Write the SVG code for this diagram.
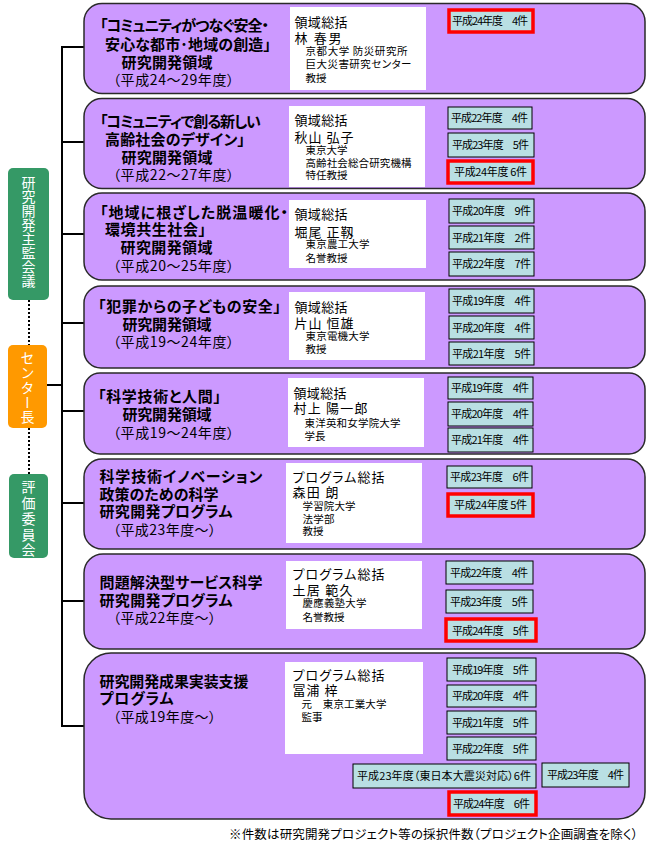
<svg xmlns="http://www.w3.org/2000/svg" width="654" height="846" viewBox="0 0 654 846">
<style>
.panel{fill:#cc99ff;stroke:#2a2a2a;stroke-width:1.5}
.info{fill:#ffffff}
.cnt{fill:#b9dfe3;stroke:#000;stroke-width:1}
.cntr{fill:#b9dfe3;stroke:#ff0000;stroke-width:3.5}
text{font-family:"Noto Sans CJK JP","Noto Sans CJK SC",sans-serif;font-feature-settings:"palt";fill:#000}
.ttl{font-size:15px;font-weight:bold}
.sub{font-size:14px}
.nm{font-size:13px}
.sm{font-size:10.5px}
.cn{font-size:11px}
.vt{font-size:14px;fill:#fff;writing-mode:vertical-rl;font-feature-settings:normal}
.ln{stroke:#000;stroke-width:2;fill:none}
.dot{stroke:#000;stroke-width:2;stroke-dasharray:2 2;fill:none}
</style>
<g id="connectors">
<line class="ln" x1="62" y1="46" x2="62" y2="727"/>
<line class="ln" x1="47" y1="385" x2="62" y2="385"/>
<line class="ln" x1="61" y1="47" x2="84" y2="47"/>
<line class="ln" x1="61" y1="142" x2="84" y2="142"/>
<line class="ln" x1="61" y1="234" x2="84" y2="234"/>
<line class="ln" x1="61" y1="323" x2="84" y2="323"/>
<line class="ln" x1="61" y1="411" x2="84" y2="411"/>
<line class="ln" x1="61" y1="503" x2="84" y2="503"/>
<line class="ln" x1="61" y1="601" x2="84" y2="601"/>
<line class="ln" x1="61" y1="726" x2="84" y2="726"/>
<line class="dot" x1="29" y1="300" x2="29" y2="345"/>
<line class="dot" x1="29" y1="428" x2="29" y2="474"/>
</g>
<g id="kanri">
<rect x="8" y="168" width="41" height="132" rx="5" fill="#359966"/>
<text class="vt" x="28.5" y="176">研究開発主監会議</text>
</g>
<g id="center">
<rect x="8" y="345" width="39" height="83" rx="5" fill="#ff9900"/>
<text class="vt" x="27.5" y="351" letter-spacing="0.75">センター長</text>
</g>
<g id="hyoka">
<rect x="9" y="474" width="39" height="84" rx="5" fill="#359966"/>
<text class="vt" x="28.5" y="480" letter-spacing="1.75">評価委員会</text>
</g>

<g id="p1">
<rect class="panel" x="84" y="3.5" width="561" height="90" rx="18"/>
<text class="ttl" x="100" y="31" textLength="169">「コミュニティがつなぐ安全・</text>
<text class="ttl" x="105" y="50" textLength="166">安心な都市･地域の創造」</text>
<text class="ttl" x="121.5" y="68" textLength="91">研究開発領域</text>
<text class="sub" x="113" y="85" textLength="121">（平成24～29年度）</text>
<rect class="info" x="290" y="7" width="136" height="83"/>
<text class="nm" x="294.5" y="27" textLength="53">領域総括</text>
<text class="nm" x="294.5" y="43" textLength="47">林 春男</text>
<text class="sm" x="305.5" y="55" textLength="102">京都大学 防災研究所</text>
<text class="sm" x="305.5" y="68" textLength="106">巨大災害研究センター</text>
<text class="sm" x="305.5" y="82" textLength="21">教授</text>
<rect class="cntr" x="449" y="10" width="84" height="22"/>
<text class="cn" x="452" y="25" textLength="76">平成24年度　4件</text>
</g>

<g id="p2">
<rect class="panel" x="84" y="98.5" width="561" height="90" rx="18"/>
<text class="ttl" x="100" y="127" textLength="161">「コミュニティで創る新しい</text>
<text class="ttl" x="105" y="145" textLength="140">高齢社会のデザイン」</text>
<text class="ttl" x="121.5" y="163" textLength="91">研究開発領域</text>
<text class="sub" x="113" y="180" textLength="121">（平成22～27年度）</text>
<rect class="info" x="289" y="106" width="136" height="81"/>
<text class="nm" x="294.5" y="125" textLength="53">領域総括</text>
<text class="nm" x="294.5" y="142" textLength="59">秋山 弘子</text>
<text class="sm" x="305.5" y="154" textLength="42">東京大学</text>
<text class="sm" x="305.5" y="167" textLength="106">高齢社会総合研究機構</text>
<text class="sm" x="305.5" y="179" textLength="42">特任教授</text>
<rect class="cnt" x="448" y="107" width="84" height="22"/>
<text class="cn" x="451" y="122" textLength="77">平成22年度　4件</text>
<rect class="cnt" x="448" y="133" width="86" height="24"/>
<text class="cn" x="452" y="149" textLength="77">平成23年度　5件</text>
<rect class="cntr" x="448" y="161" width="85" height="22"/>
<text class="cn" x="454" y="176" textLength="73">平成24年度 6件</text>
</g>

<g id="p3">
<rect class="panel" x="84" y="193" width="561" height="87" rx="18"/>
<text class="ttl" x="100" y="218" textLength="188">「地域に根ざした脱温暖化・</text>
<text class="ttl" x="105" y="235" textLength="101">環境共生社会」</text>
<text class="ttl" x="120.5" y="253" textLength="92">研究開発領域</text>
<text class="sub" x="113" y="271" textLength="121">（平成20～25年度）</text>
<rect class="info" x="289" y="200" width="137" height="68"/>
<text class="nm" x="294.5" y="219" textLength="53">領域総括</text>
<text class="nm" x="294.5" y="237" textLength="59">堀尾 正靱</text>
<text class="sm" x="305.5" y="248" textLength="64">東京農工大学</text>
<text class="sm" x="305.5" y="262" textLength="42">名誉教授</text>
<rect class="cnt" x="449" y="199" width="85" height="24"/>
<text class="cn" x="452" y="215" textLength="79">平成20年度　9件</text>
<rect class="cnt" x="449" y="226" width="85" height="23"/>
<text class="cn" x="452" y="242" textLength="79">平成21年度　2件</text>
<rect class="cnt" x="449" y="252" width="85" height="24"/>
<text class="cn" x="452" y="268" textLength="79">平成22年度　7件</text>
</g>

<g id="p4">
<rect class="panel" x="84" y="286" width="561" height="82" rx="17"/>
<text class="ttl" x="98" y="312" textLength="183">「犯罪からの子どもの安全」</text>
<text class="ttl" x="122.5" y="330" textLength="89">研究開発領域</text>
<text class="sub" x="113" y="347" textLength="121">（平成19～24年度）</text>
<rect class="info" x="289" y="292" width="136" height="68"/>
<text class="nm" x="294.5" y="312" textLength="53">領域総括</text>
<text class="nm" x="294.5" y="328" textLength="59">片山 恒雄</text>
<text class="sm" x="305.5" y="340" textLength="64">東京電機大学</text>
<text class="sm" x="305.5" y="353" textLength="21">教授</text>
<rect class="cnt" x="449" y="289" width="85" height="24"/>
<text class="cn" x="452" y="305" textLength="79">平成19年度　4件</text>
<rect class="cnt" x="449" y="316" width="85" height="23"/>
<text class="cn" x="452" y="332" textLength="79">平成20年度　4件</text>
<rect class="cnt" x="449" y="342" width="85" height="23"/>
<text class="cn" x="452" y="358" textLength="79">平成21年度　5件</text>
</g>

<g id="p5">
<rect class="panel" x="84" y="373" width="561" height="81" rx="16"/>
<text class="ttl" x="98" y="402" textLength="123">「科学技術と人間」</text>
<text class="ttl" x="122.5" y="420" textLength="89">研究開発領域</text>
<text class="sub" x="113" y="438" textLength="121">（平成19～24年度）</text>
<rect class="info" x="288" y="378" width="136" height="69"/>
<text class="nm" x="293.5" y="398" textLength="53">領域総括</text>
<text class="nm" x="293.5" y="413" textLength="74">村上 陽一郎</text>
<text class="sm" x="304.5" y="427" textLength="96">東洋英和女学院大学</text>
<text class="sm" x="304.5" y="440" textLength="21">学長</text>
<rect class="cnt" x="448" y="377" width="85" height="22"/>
<text class="cn" x="451" y="392" textLength="78">平成19年度　4件</text>
<rect class="cnt" x="448" y="402" width="85" height="24"/>
<text class="cn" x="451" y="418" textLength="78">平成20年度　4件</text>
<rect class="cnt" x="448" y="428" width="85" height="24"/>
<text class="cn" x="451" y="444" textLength="78">平成21年度　4件</text>
</g>

<g id="p6">
<rect class="panel" x="84" y="459" width="561" height="90" rx="18"/>
<text class="ttl" x="99.5" y="482" textLength="163">科学技術イノベーション</text>
<text class="ttl" x="99.5" y="500" textLength="119">政策のための科学</text>
<text class="ttl" x="99.5" y="517" textLength="133">研究開発プログラム</text>
<text class="sub" x="113" y="535" textLength="103">（平成23年度～）</text>
<rect class="info" x="286" y="463" width="136" height="80"/>
<text class="nm" x="292.5" y="482" textLength="92">プログラム総括</text>
<text class="nm" x="292.5" y="497" textLength="46">森田 朗</text>
<text class="sm" x="302.5" y="510" textLength="53">学習院大学</text>
<text class="sm" x="302.5" y="523" textLength="32">法学部</text>
<text class="sm" x="302.5" y="535" textLength="21">教授</text>
<rect class="cnt" x="447" y="466" width="85" height="22"/>
<text class="cn" x="450" y="481" textLength="79">平成23年度　6件</text>
<rect class="cntr" x="448" y="494" width="85" height="22"/>
<text class="cn" x="454" y="509" textLength="73">平成24年度 5件</text>
</g>

<g id="p7">
<rect class="panel" x="84" y="554" width="561" height="95" rx="19"/>
<text class="ttl" x="99.5" y="588" textLength="163">問題解決型サービス科学</text>
<text class="ttl" x="99.5" y="606" textLength="133">研究開発プログラム</text>
<text class="sub" x="113" y="623" textLength="103">（平成22年度～）</text>
<rect class="info" x="286" y="561" width="136" height="68"/>
<text class="nm" x="292.5" y="579" textLength="92">プログラム総括</text>
<text class="nm" x="292.5" y="595" textLength="60">土居 範久</text>
<text class="sm" x="302.5" y="607" textLength="64">慶應義塾大学</text>
<text class="sm" x="302.5" y="621" textLength="42">名誉教授</text>
<rect class="cnt" x="446" y="561" width="87" height="23"/>
<text class="cn" x="450" y="577" textLength="78">平成22年度　4件</text>
<rect class="cnt" x="446" y="590" width="87" height="23"/>
<text class="cn" x="450" y="606" textLength="78">平成23年度　5件</text>
<rect class="cntr" x="446" y="619" width="90" height="22"/>
<text class="cn" x="452" y="635" textLength="77">平成24年度　5件</text>
</g>

<g id="p8">
<rect class="panel" x="84" y="653" width="561" height="166" rx="27"/>
<text class="ttl" x="99.5" y="687" textLength="149">研究開発成果実装支援</text>
<text class="ttl" x="99.5" y="704" textLength="74">プログラム</text>
<text class="sub" x="113" y="722" textLength="103">（平成19年度～）</text>
<rect class="info" x="285" y="662" width="138" height="92"/>
<text class="nm" x="292.5" y="680" textLength="92">プログラム総括</text>
<text class="nm" x="292.5" y="695" textLength="45">冨浦 梓</text>
<text class="sm" x="301.5" y="708" textLength="85">元　東京工業大学</text>
<text class="sm" x="301.5" y="721" textLength="21">監事</text>
<rect class="cnt" x="447" y="658" width="89" height="23"/>
<text class="cn" x="452" y="674" textLength="77">平成19年度　5件</text>
<rect class="cnt" x="447" y="685" width="89" height="22"/>
<text class="cn" x="452" y="700" textLength="77">平成20年度　4件</text>
<rect class="cnt" x="447" y="711" width="89" height="23"/>
<text class="cn" x="452" y="727" textLength="77">平成21年度　5件</text>
<rect class="cnt" x="447" y="737" width="89" height="23"/>
<text class="cn" x="452" y="753" textLength="77">平成22年度　5件</text>
<rect class="cnt" x="353" y="764" width="183" height="24"/>
<text class="cn" x="357" y="780" textLength="174">平成23年度（東日本大震災対応）6件</text>
<rect class="cnt" x="542" y="763" width="87" height="24"/>
<text class="cn" x="547" y="779" textLength="77">平成23年度　4件</text>
<rect class="cntr" x="449" y="792" width="87" height="23"/>
<text class="cn" x="453" y="808" textLength="77">平成24年度　6件</text>
</g>

<text x="229" y="839" font-size="12.5" textLength="409">※件数は研究開発プロジェクト等の採択件数（プロジェクト企画調査を除く）</text>
</svg>
